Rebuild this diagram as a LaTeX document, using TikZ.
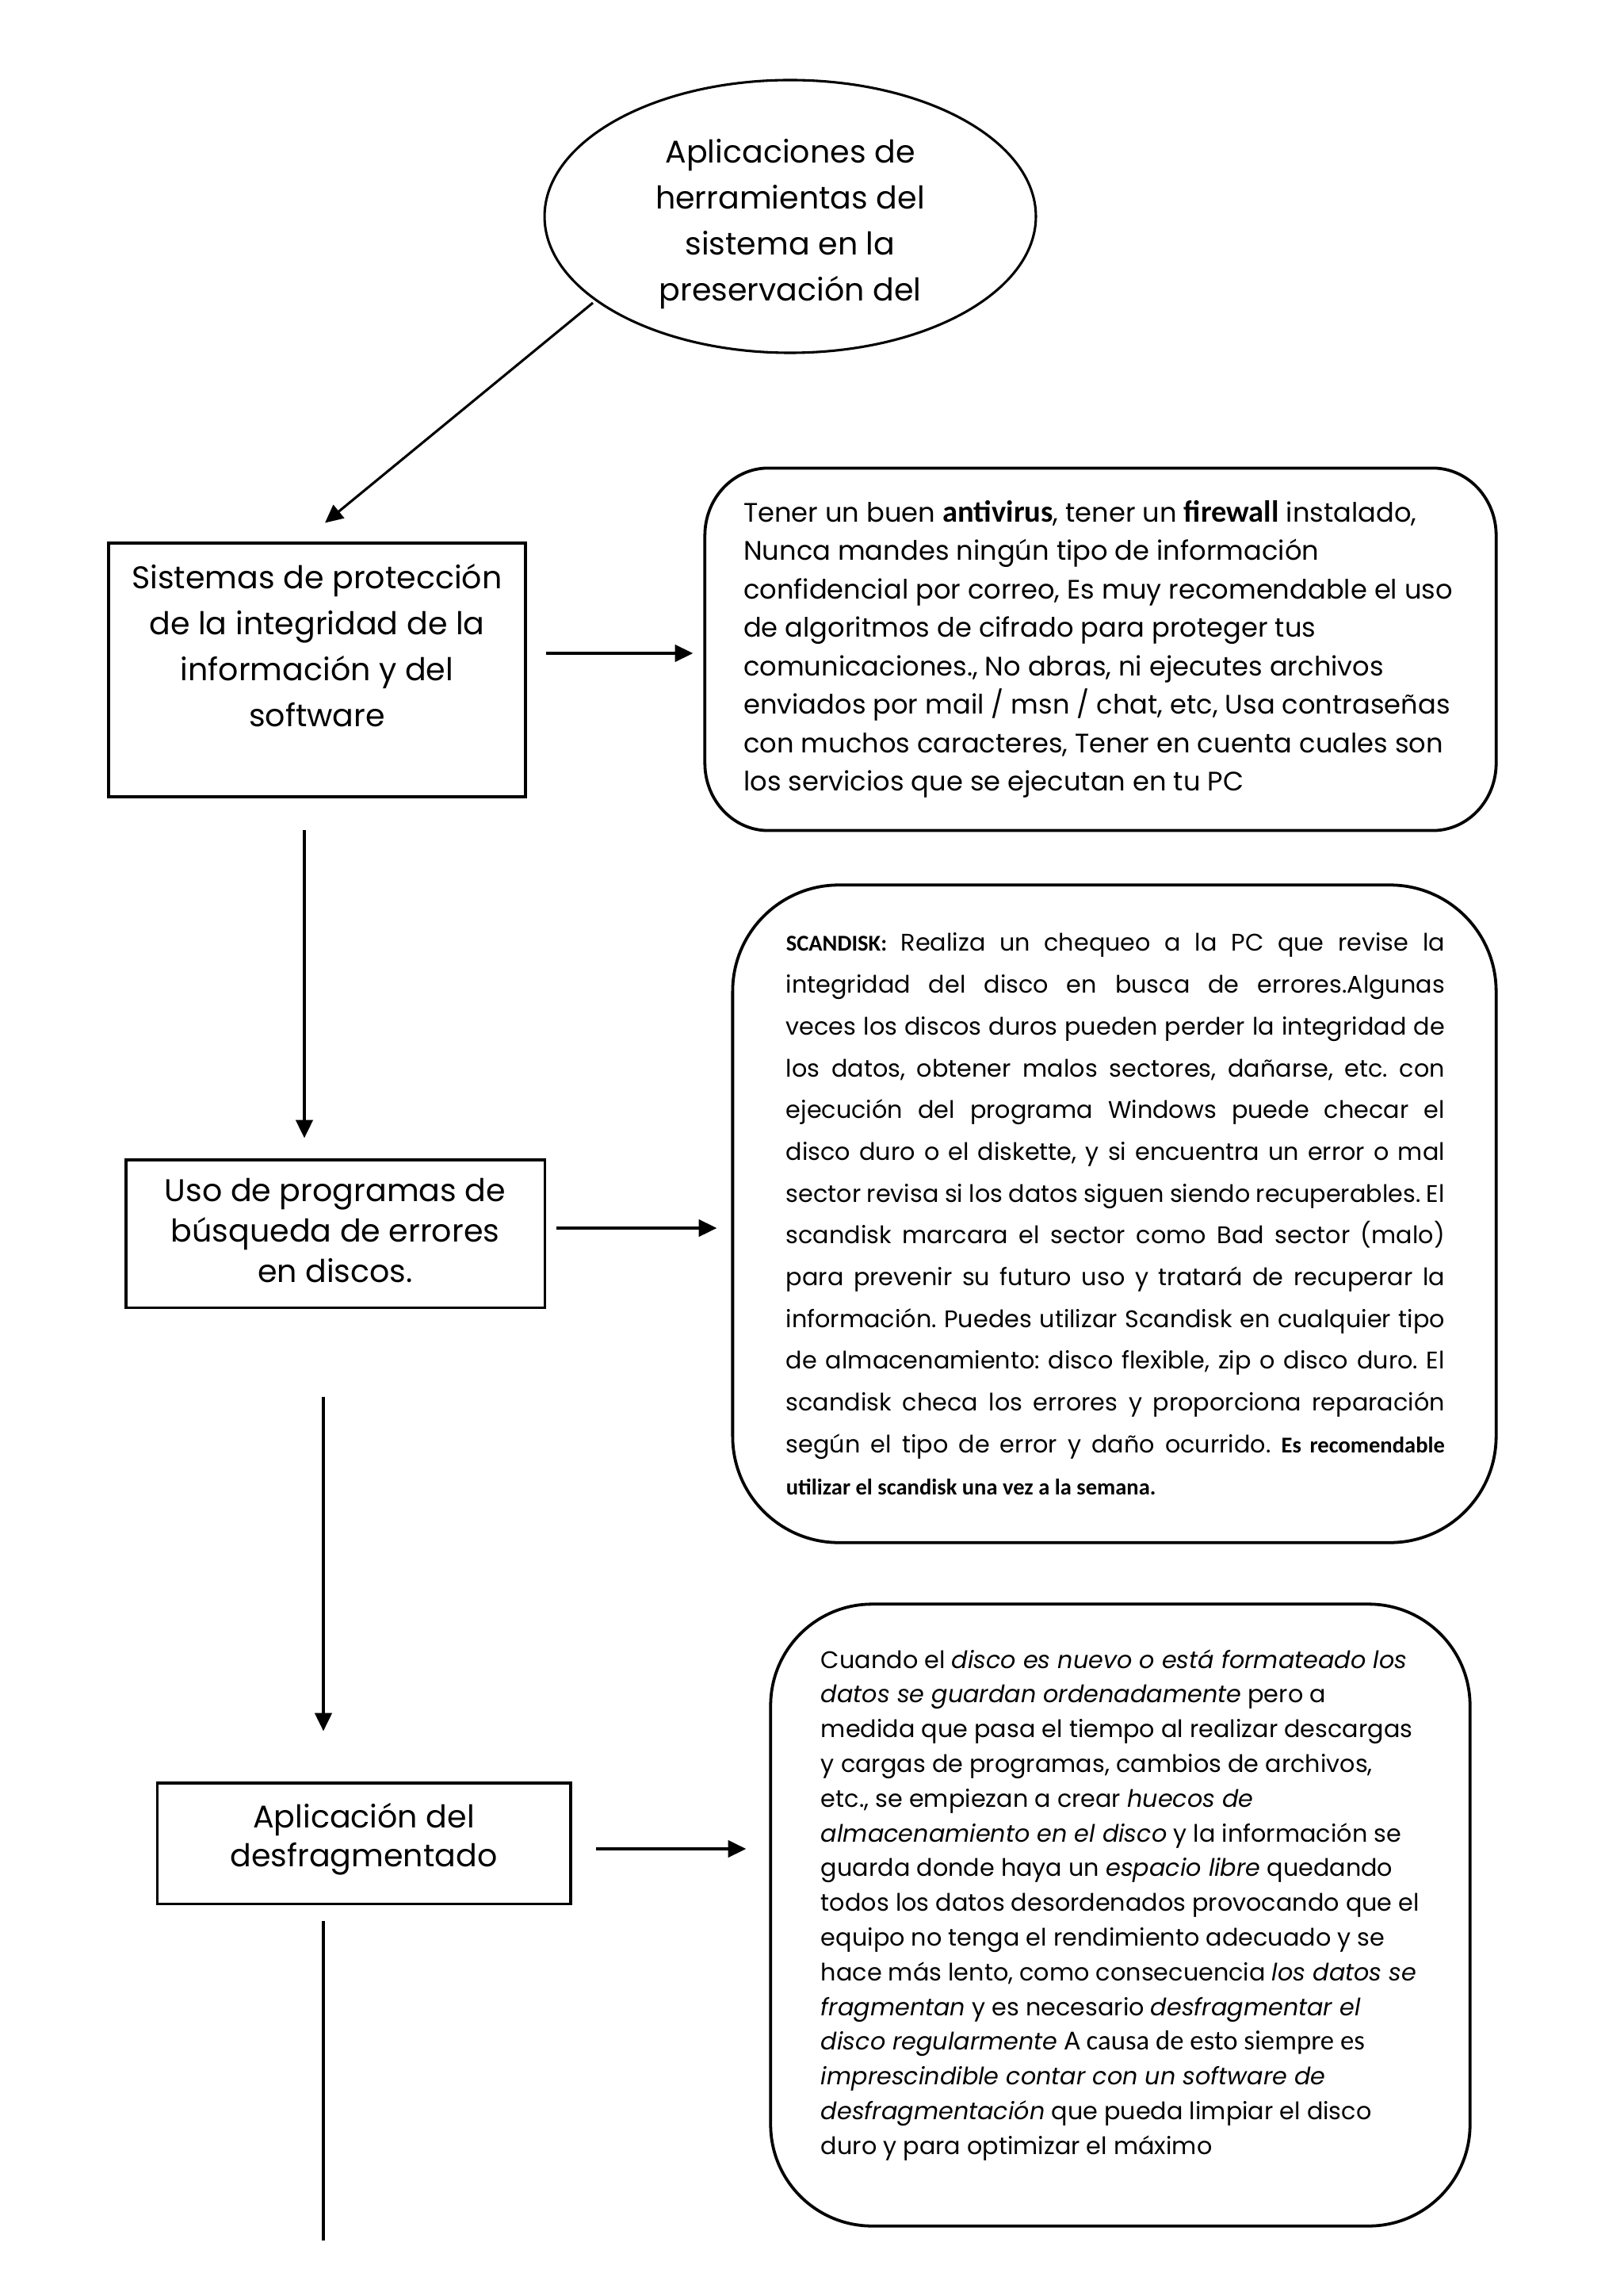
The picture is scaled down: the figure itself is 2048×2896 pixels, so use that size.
\documentclass[tikz,border=0pt]{standalone}
\usepackage{fontspec}
\setmainfont{Poppins}
\newfontfamily\calf{Carlito}
\usetikzlibrary{arrows.meta,calc,shapes.geometric}
\frenchspacing
\tikzset{
  boxline/.style={draw=black, line width=0.9pt},
  rline/.style={draw=black, line width=1.1pt},
  arr/.style={line width=0.9pt, -{Triangle[length=6.6pt,width=6.2pt]}},
  conn/.style={line width=0.9pt},
}
% rounded outline with elliptic corners around a node: name, rx, ry
\newcommand\rrect[3]{%
 \pgfmathsetmacro\kx{0.5523*#2}\pgfmathsetmacro\ky{0.5523*#3}%
 \draw[rline] ($(#1.north west)+(#2,0)$) -- ($(#1.north east)+(-#2,0)$)
 .. controls ($(#1.north east)+(-#2+\kx,0)$) and ($(#1.north east)+(0,#3-\ky)$) .. ($(#1.north east)+(0,#3)$)
 -- ($(#1.south east)+(0,-#3)$)
 .. controls ($(#1.south east)+(0,-#3+\ky)$) and ($(#1.south east)+(-#2+\kx,0)$) .. ($(#1.south east)+(-#2,0)$)
 -- ($(#1.south west)+(#2,0)$)
 .. controls ($(#1.south west)+(#2-\kx,0)$) and ($(#1.south west)+(0,-#3+\ky)$) .. ($(#1.south west)+(0,-#3)$)
 -- ($(#1.north west)+(0,#3)$)
 .. controls ($(#1.north west)+(0,#3-\ky)$) and ($(#1.north west)+(#2-\kx,0)$) .. cycle;}
\begin{document}
\begin{tikzpicture}[x=0.29068pt,y=-0.29068pt]
\useasboundingbox (0,0) rectangle (2048,2896);
\fill[white] (0,0) rectangle (2048,2896);

% top ellipse
\node[ellipse, draw, line width=0.9pt, minimum width=180.2pt, minimum height=100pt, inner sep=0pt, align=center, font=\fontsize{11.5}{16.9}\selectfont] (e) at (997,273)
 {\rule{0pt}{14.5pt}Aplicaciones de\\herramientas del\\sistema en la\\preservación del};

% box 1
\node[boxline, inner sep=0pt] (b1) at (400,845)
 {\parbox[c][93.0pt][t]{152.9pt}{\centering\fontsize{11.5}{16.9}\selectfont\rule{0pt}{16.6pt}Sistemas de protección\\de la integridad de la\\información y del\\software}};

% box 3
\node[boxline, inner sep=0pt] (b3) at (423,1556)
 {\parbox[c][54.1pt][t]{153.5pt}{\centering\fontsize{11.5}{14.8}\selectfont\rule{0pt}{15.4pt}Uso de programas de\\búsqueda de errores\\en discos.}};

% box 5
\node[boxline, inner sep=0pt] (b5) at (459,2325)
 {\parbox[c][44.2pt][t]{151.7pt}{\centering\fontsize{11.5}{14.5}\selectfont\rule{0pt}{16.3pt}Aplicación del\\desfragmentado}};

% rounded box 2
\node[inner sep=0pt] (r2) at (1388.5,819)
 {\parbox[c][132.5pt][t]{289.8pt}{\leftskip=14pt\fontsize{9.8}{14.11}\selectfont\rule{0pt}{19.5pt}Tener un buen {\calf\bfseries\fontsize{11.2}{14.11}\selectfont antivirus}, tener un {\calf\bfseries\fontsize{11.2}{14.11}\selectfont firewall} instalado,\\
 Nunca mandes ningún tipo de información\\
 confidencial por correo, Es muy recomendable el uso\\
 de algoritmos de cifrado para proteger tus\\
 comunicaciones., No abras, ni ejecutes archivos\\
 enviados por mail / msn / chat, etc, Usa contraseñas\\
 con muchos caracteres, Tener en cuenta cuales son\\
 los servicios que se ejecutan en tu PC}};
\rrect{r2}{80}{85}

% rounded box 4
\node[inner sep=0pt] (r4) at (1406,1531)
 {\parbox[c][240.7pt][t]{279.6pt}{\leftskip=19.4pt\fontsize{8.8}{15.32}\selectfont\rule{0pt}{24.1pt}%
 \makebox[241.6pt][s]{{\calf\bfseries\fontsize{8.3}{15.32}\selectfont SCANDISK:} Realiza un chequeo a la PC que revise la}\\
 \makebox[241.6pt][s]{integridad del disco en busca de errores.Algunas}\\
 \makebox[241.6pt][s]{veces los discos duros pueden perder la integridad de}\\
 \makebox[241.6pt][s]{los datos, obtener malos sectores, dañarse, etc. con}\\
 \makebox[241.6pt][s]{ejecución del programa Windows puede checar el}\\
 \makebox[241.6pt][s]{disco duro o el diskette, y si encuentra un error o mal}\\
 \makebox[241.6pt][s]{sector revisa si los datos siguen siendo recuperables. El}\\
 \makebox[241.6pt][s]{scandisk marcara el sector como Bad sector (malo)}\\
 \makebox[241.6pt][s]{para prevenir su futuro uso y tratará de recuperar la}\\
 \makebox[241.6pt][s]{información. Puedes utilizar Scandisk en cualquier tipo}\\
 \makebox[241.6pt][s]{de almacenamiento: disco flexible, zip o disco duro. El}\\
 \makebox[241.6pt][s]{scandisk checa los errores y proporciona reparación}\\
 \makebox[241.6pt][s]{según el tipo de error y daño ocurrido. {\calf\bfseries\fontsize{8.3}{15.32}\selectfont Es recomendable}}\\
 {\calf\bfseries\fontsize{8.3}{15.32}\selectfont utilizar el scandisk una vez a la semana.}}};
\rrect{r4}{134}{134}

% rounded box 6
\node[inner sep=0pt] (r6) at (1413.5,2415.5)
 {\parbox[c][227.6pt][t]{256.1pt}{\leftskip=18.3pt\fontsize{8.8}{12.73}\selectfont\rule{0pt}{23.3pt}%
 Cuando el \textit{disco es nuevo o está formateado los}\\
 \textit{datos se guardan ordenadamente} pero a\\
 medida que pasa el tiempo al realizar descargas\\
 y cargas de programas, cambios de archivos,\\
 etc., se empiezan a crear \textit{huecos de}\\
 \textit{almacenamiento en el disco} y la información se\\
 guarda donde haya un \textit{espacio libre} quedando\\
 todos los datos desordenados provocando que el\\
 equipo no tenga el rendimiento adecuado y se\\
 hace más lento, como consecuencia \textit{los datos se}\\
 \textit{fragmentan} y es necesario \textit{desfragmentar el}\\
 \textit{disco regularmente} {\calf\fontsize{10.1}{12.73}\selectfont A causa de esto siempre es}\\
 \textit{imprescindible contar con un software de}\\
 \textit{desfragmentación} que pueda limpiar el disco\\
 duro y para optimizar el máximo}};
\rrect{r6}{128}{128}

% connectors
\draw[arr] ($(e.center)+(-249,109)$) -- ($(b1.north)+(10,-24)$);
\draw[arr] ($(b1.east)+(24,-21)$) -- ($(r2.west)+(-15,5)$);
\draw[arr] ($(b1.south)+(-16,40)$) -- ($(b3.north)+(-39,-26)$);
\draw[arr] ($(b3.east)+(13,-7)$) -- ($(r4.west)+(-20,18)$);
\draw[arr] ($(b3.south)+(-15,111)$) -- ($(b5.north)+(-51,-64)$);
\draw[arr] ($(b5.east)+(30,7)$) -- ($(r6.west)+(-31,-83.5)$);
\coordinate (tail) at (408,2826);
\draw[conn] ($(b5.south)+(-51,20)$) -- (tail);
\end{tikzpicture}
\end{document}
